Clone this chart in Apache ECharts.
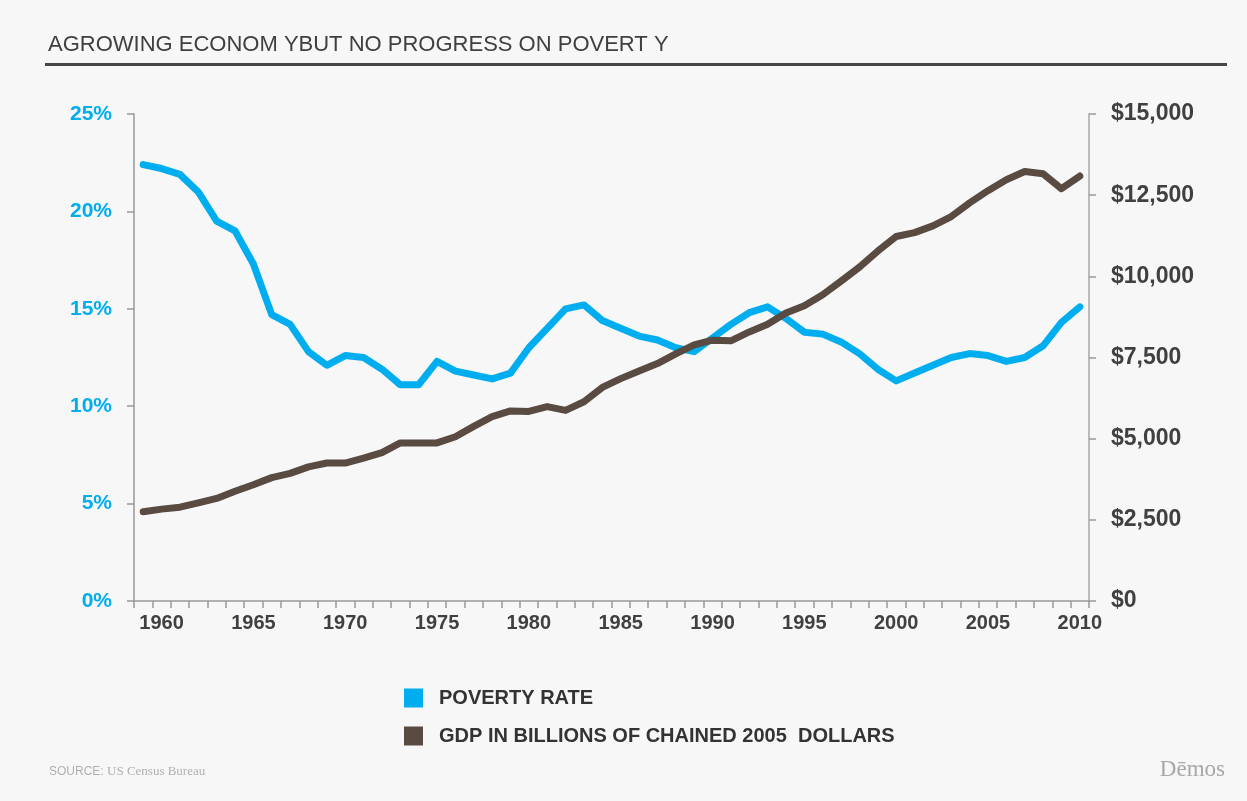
<!DOCTYPE html>
<html>
<head>
<meta charset="utf-8">
<script src="https://cdn.jsdelivr.net/npm/echarts@6/dist/echarts.min.js"></script>
<style>
html,body{margin:0;padding:0;background:#f7f7f7;}
#chart{width:1247px;height:801px;}
</style>
</head>
<body>
<div id="chart"></div>
<script>
var years = ['1959','1960','1961','1962','1963','1964','1965','1966','1967','1968',
  '1969','1970','1971','1972','1973','1974','1975','1976','1977','1978',
  '1979','1980','1981','1982','1983','1984','1985','1986','1987','1988',
  '1989','1990','1991','1992','1993','1994','1995','1996','1997','1998',
  '1999','2000','2001','2002','2003','2004','2005','2006','2007','2008',
  '2009','2010'];
var povertyRate = [22.4,22.2,21.9,21.0,19.5,19.0,17.3,14.7,14.2,12.8,
  12.1,12.6,12.5,11.9,11.1,11.1,12.3,11.8,11.6,11.4,
  11.7,13.0,14.0,15.0,15.2,14.4,14.0,13.6,13.4,13.0,
  12.8,13.5,14.2,14.8,15.1,14.5,13.8,13.7,13.3,12.7,
  11.9,11.3,11.7,12.1,12.5,12.7,12.6,12.3,12.5,13.1,
  14.3,15.1];
var gdp = [2750,2830,2890,3020,3160,3380,3580,3800,3930,4130,
  4250,4250,4400,4570,4870,4870,4870,5060,5378,5677,
  5855,5839,5987,5871,6136,6577,6849,7087,7314,7614,
  7886,8034,8015,8287,8523,8871,9094,9434,9854,10284,
  10780,11226,11347,11553,11841,12264,12638,12976,13229,13160,
  12700,13090];
var leftTicks = [0,5,10,15,20,25];
var rightTicks = [0,2500,5000,7500,10000,12500,15000];
var seriesNames = ['POVERTY RATE','GDP IN BILLIONS OF CHAINED 2005  DOLLARS'];
var titleText = 'AGROWING ECONOM YBUT NO PROGRESS ON POVERT Y';

var chart = echarts.init(document.getElementById('chart'));
var FONT = '"Liberation Sans", Arial, sans-serif';
chart.setOption({
  backgroundColor: '#f7f7f7',
  animation: false,
  title: {
    text: titleText,
    left: 43, top: 29,
    textStyle: {fontFamily: FONT, fontSize: 22, fontWeight: 'normal', color: '#404040'}
  },
  graphic: [
    {type: 'rect', shape: {x: 45, y: 63, width: 1182, height: 3}, style: {fill: '#454545'}},
    {type: 'text', x: 49, y: 772, style: {
      text: '{a|SOURCE:} {b|US Census Bureau}', verticalAlign: 'middle',
      rich: {a: {fontFamily: FONT, fontSize: 12, fill: '#b0b0b0', color: '#b0b0b0'},
             b: {fontFamily: '"Liberation Serif", serif', fontSize: 13, fill: '#b0b0b0', color: '#b0b0b0'}}
    }},
    {type: 'text', x: 1225, y: 770, style: {
      text: 'Dēmos', align: 'right', verticalAlign: 'middle',
      font: '23px "Liberation Serif", serif', fill: '#a8a8a8'
    }}
  ],
  legend: {
    orient: 'vertical', left: 399, top: 683,
    itemWidth: 19, itemHeight: 19, itemGap: 18,
    icon: 'rect',
    data: seriesNames,
    textStyle: {fontFamily: FONT, fontSize: 20, fontWeight: 'bold', color: '#333', padding: [0,0,0,11]}
  },
  grid: {left: 134, right: 158, top: 114, bottom: 200, containLabel: false},
  xAxis: {
    type: 'category', data: years, boundaryGap: true,
    axisLine: {lineStyle: {color: '#999', width: 1.5}},
    axisTick: {show: true, interval: 0, length: 7, lineStyle: {color: '#999', width: 1.5}},
    axisLabel: {
      interval: function (i, v) { return parseInt(v, 10) % 5 === 0; },
      fontFamily: FONT, fontSize: 20, fontWeight: 'bold', color: '#404040', margin: 12
    },
    splitLine: {show: false}
  },
  yAxis: [
    {
      type: 'value', min: leftTicks[0], max: leftTicks[leftTicks.length-1], interval: 5,
      position: 'left',
      axisLine: {show: true, lineStyle: {color: '#999', width: 1.5}},
      axisTick: {show: true, length: 7, lineStyle: {color: '#999', width: 1.5}},
      axisLabel: {formatter: '{value}%', fontFamily: FONT, fontSize: 21, fontWeight: 'bold', color: '#00aeef', margin: 22},
      splitLine: {show: false}
    },
    {
      type: 'value', min: rightTicks[0], max: rightTicks[rightTicks.length-1], interval: 2500,
      position: 'right',
      axisLine: {show: true, lineStyle: {color: '#bbb', width: 2}},
      axisTick: {show: true, length: 7, lineStyle: {color: '#999', width: 1.5}},
      axisLabel: {
        formatter: function (v) { return '$' + v.toString().replace(/\B(?=(\d{3})+(?!\d))/g, ','); },
        fontFamily: FONT, fontSize: 23, fontWeight: 'bold', color: '#404040', margin: 22
      },
      splitLine: {show: false}
    }
  ],
  series: [
    {
      name: seriesNames[0], type: 'line', yAxisIndex: 0, data: povertyRate,
      symbol: 'none', smooth: false,
      itemStyle: {color: '#00aeef'},
      lineStyle: {color: '#00aeef', width: 7, join: 'round', cap: 'round'}
    },
    {
      name: seriesNames[1], type: 'line', yAxisIndex: 1, data: gdp,
      symbol: 'none', smooth: false,
      itemStyle: {color: '#594a42'},
      lineStyle: {color: '#594a42', width: 7, join: 'round', cap: 'round'}
    }
  ]
});
</script>
</body>
</html>
